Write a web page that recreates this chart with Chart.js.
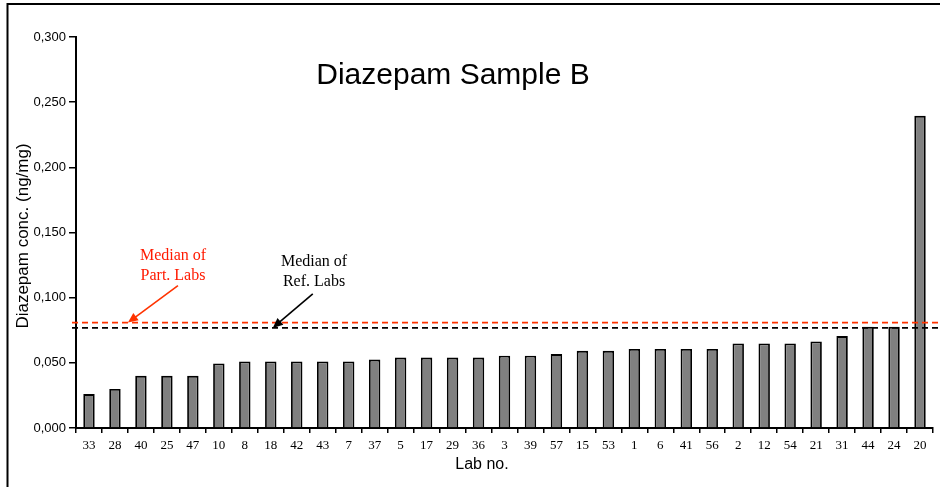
<!DOCTYPE html>
<html>
<head>
<meta charset="utf-8">
<script src="https://cdn.jsdelivr.net/npm/chart.js@4"></script>
<style>
    html, body { margin: 0; padding: 0; background: #fff; }
    canvas { display: block; }
</style>
</head>
<body>
<canvas id="chart" width="940" height="487"></canvas>
<script>
// lab numbers in plotted order + measured diazepam (ng/mg)
const labs = ['33','28','40','25','47','10','8','18','42','43','7','37','5','17','29','36','3',
              '39','57','15','53','1','6','41','56','2','12','54','21','31','44','24','20'];
const conc = [0.026, 0.030, 0.040, 0.040, 0.040, 0.0495, 0.051, 0.051, 0.051, 0.051, 0.051,
              0.0525, 0.054, 0.054, 0.054, 0.054, 0.0555, 0.0555, 0.0567, 0.0592, 0.0592,
              0.0607, 0.0607, 0.0607, 0.0607, 0.0648, 0.0648, 0.0648, 0.0664, 0.0705,
              0.0776, 0.0776, 0.2395];
const medianPart = 0.0809;
const medianRef = 0.0768;

const SANS = '"Liberation Sans", Arial, sans-serif';
const SERIF = '"Liberation Serif", "Times New Roman", serif';

function arrow(ctx, x1, y1, x2, y2, color) {
    const ang = Math.atan2(y2 - y1, x2 - x1);
    const len = 10, w = 4.5;
    ctx.strokeStyle = color;
    ctx.fillStyle = color;
    ctx.lineWidth = 1.6;
    ctx.setLineDash([]);
    ctx.beginPath();
    ctx.moveTo(x1, y1);
    ctx.lineTo(x2 - Math.cos(ang) * len * 0.8, y2 - Math.sin(ang) * len * 0.8);
    ctx.stroke();
    ctx.beginPath();
    ctx.moveTo(x2, y2);
    ctx.lineTo(x2 - Math.cos(ang) * len - Math.sin(ang) * w, y2 - Math.sin(ang) * len + Math.cos(ang) * w);
    ctx.lineTo(x2 - Math.cos(ang) * len + Math.sin(ang) * w, y2 - Math.sin(ang) * len - Math.cos(ang) * w);
    ctx.closePath();
    ctx.fill();
}

const extras = {
    id: 'extras',
    afterDatasetsDraw(chart) {
        const ctx = chart.ctx;
        const area = chart.chartArea;
        const y = chart.scales.y;
        const x = chart.scales.x;
        ctx.save();

        // median lines
        ctx.lineWidth = 1.7;
        ctx.setLineDash([6, 4]);
        ctx.strokeStyle = '#000';
        ctx.beginPath();
        ctx.moveTo(area.left - 4, y.getPixelForValue(medianRef));
        ctx.lineTo(chart.width, y.getPixelForValue(medianRef));
        ctx.stroke();
        ctx.strokeStyle = '#ff3300';
        ctx.beginPath();
        ctx.moveTo(area.left - 4, y.getPixelForValue(medianPart));
        ctx.lineTo(chart.width, y.getPixelForValue(medianPart));
        ctx.stroke();

        // annotations
        const cw = x.getPixelForValue(1) - x.getPixelForValue(0);
        const redTipX = x.getPixelForValue(1) + cw / 2;
        const redTipY = y.getPixelForValue(medianPart);
        arrow(ctx, redTipX + 50, redTipY - 37, redTipX, redTipY, '#ff3300');
        const blkTipX = x.getPixelForValue(7) + 2;
        const blkTipY = y.getPixelForValue(medianRef);
        arrow(ctx, blkTipX + 40, blkTipY - 34, blkTipX, blkTipY, '#000');

        ctx.font = '16px ' + SERIF;
        ctx.textAlign = 'center';
        ctx.textBaseline = 'middle';
        ctx.fillStyle = '#ff1a00';
        ctx.fillText('Median of', 173, 256);
        ctx.fillText('Part. Labs', 173, 276);
        ctx.fillStyle = '#000';
        ctx.fillText('Median of', 314, 262);
        ctx.fillText('Ref. Labs', 314, 282);

        // title inside plot
        ctx.font = '30px ' + SANS;
        ctx.fillText('Diazepam Sample B', 453, 76);

        // axis titles
        ctx.font = '16px ' + SANS;
        ctx.fillText('Lab no.', 482, 465);
        ctx.save();
        ctx.translate(23, 236);
        ctx.rotate(-Math.PI / 2);
        ctx.font = '17px ' + SANS;
        ctx.fillText('Diazepam conc. (ng/mg)', 0, 0);
        ctx.restore();

        // outer frame (top and left edges visible)
        ctx.strokeStyle = '#000';
        ctx.lineWidth = 2;
        ctx.beginPath();
        ctx.moveTo(7.5, chart.height);
        ctx.lineTo(7.5, 4);
        ctx.lineTo(chart.width, 4);
        ctx.stroke();

        ctx.restore();
    }
};

new Chart(document.getElementById('chart'), {
    type: 'bar',
    data: {
        labels: labs,
        datasets: [{
            data: conc,
            backgroundColor: '#808080',
            borderColor: '#000',
            borderWidth: 1.8,
            barPercentage: 0.44,
            categoryPercentage: 1
        }]
    },
    options: {
        responsive: false,
        animation: false,
        events: [],
        layout: { padding: { top: 37, left: 0, right: 7, bottom: 0 } },
        plugins: { legend: { display: false }, tooltip: { enabled: false } },
        scales: {
            x: {
                offset: true,
                afterFit: s => { s.height = 59; },
                grid: { drawOnChartArea: false, drawTicks: true, tickLength: 5, color: '#000', lineWidth: 1.5, offset: true },
                border: { color: '#000', width: 2 },
                ticks: { font: { family: SERIF, size: 13 }, color: '#000', padding: 5, maxRotation: 0, autoSkip: false }
            },
            y: {
                min: 0,
                max: 0.3,
                afterFit: s => { s.width = 76; },
                grid: { drawOnChartArea: false, tickLength: 7, color: '#000', lineWidth: 1.5 },
                border: { color: '#000', width: 2 },
                ticks: {
                    stepSize: 0.05,
                    font: { family: SANS, size: 13 },
                    color: '#000',
                    padding: 3,
                    callback: v => v.toFixed(3).replace('.', ',')
                }
            }
        }
    },
    plugins: [extras]
});
</script>
</body>
</html>
